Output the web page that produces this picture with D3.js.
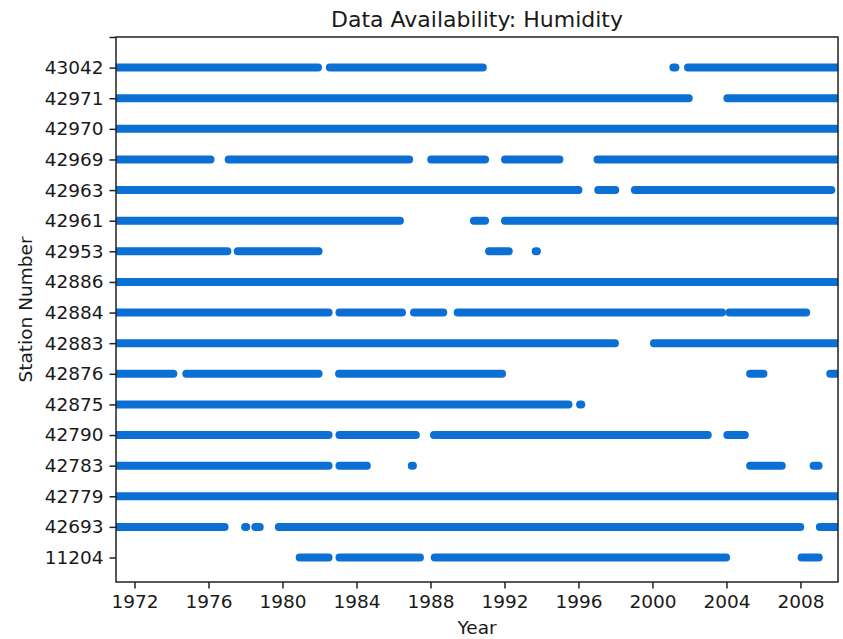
<!DOCTYPE html>
<html>
<head>
<meta charset="utf-8">
<script src="https://cdn.jsdelivr.net/npm/d3@7"></script>
<style>
  body { margin: 0; background: #fff; }
  svg { display: block; }
  text { font-family: "DejaVu Sans", sans-serif; fill: #1a1a1a; }
</style>
</head>
<body>
<svg id="chart" width="843" height="639"></svg>
<script>
// Stations, bottom to top
const stations = ["11204","42693","42779","42783","42790","42875","42876","42883",
                  "42884","42886","42953","42961","42963","42969","42970","42971","43042"];

// Periods with data [startYear, endYear], one list per station (same order)
const availability = [
  [[1980.93,1982.49],[1983.08,1987.43],[1988.23,2003.98],[2008.06,2008.99]],                 // 11204
  [[1971,1976.87],[1977.98,1978.04],[1978.53,1978.77],[1979.80,2007.99],[2009.05,2010]],     // 42693
  [[1971,2010]],                                                                             // 42779
  [[1971,1982.49],[1983.08,1984.56],[1986.99,1987.05],[2005.28,2006.99],[2008.71,2008.98]],  // 42783
  [[1971,1982.49],[1983.08,1987.21],[1988.19,2002.99],[2004.05,2004.99]],                    // 42790
  [[1971,1995.46],[1996.09,1996.15]],                                                        // 42875
  [[1971,1974.10],[1974.80,1981.95],[1983.06,1991.87],[2005.28,2006.0],[2009.61,2010]],      // 42876
  [[1971,1997.97],[2000.08,2010]],                                                           // 42883
  [[1971,1982.49],[1983.08,1986.46],[1987.11,1988.69],[1989.47,2003.76],[2004.16,2008.31]],  // 42884
  [[1971,2010]],                                                                             // 42886
  [[1971,1977.02],[1977.58,1981.95],[1991.17,1992.23],[1993.69,1993.75]],                    // 42953
  [[1971,1986.35],[1990.35,1990.95],[1992.03,2010]],                                         // 42961
  [[1971,1996.0],[1997.07,1997.99],[1999.05,2009.67]],                                       // 42963
  [[1971,1976.11],[1977.09,1986.85],[1988.04,1990.95],[1992.03,1994.97],[1997.03,2010]],     // 42969
  [[1971,2010]],                                                                             // 42970
  [[1971,2001.96],[2004.05,2010]],                                                           // 42971
  [[1971,1981.92],[1982.56,1990.83],[2001.13,2001.24],[2001.92,2010]]                        // 43042
];

const xTicks = [1972,1976,1980,1984,1988,1992,1996,2000,2004,2008];
const xDomain = [1971, 2010.03];

const W = 843, H = 639;
const plot = { left: 116, right: 838, top: 37, bottom: 582 };
const color = "#0b6fd4";

const svg = d3.select("#chart");

const x = d3.scaleLinear().domain(xDomain).range([plot.left, plot.right]);
const y = d3.scaleLinear().domain([-0.8, 17]).range([plot.bottom, plot.top]);

svg.append("defs").append("clipPath").attr("id", "clip")
  .append("rect")
  .attr("x", plot.left).attr("y", plot.top)
  .attr("width", plot.right - plot.left).attr("height", plot.bottom - plot.top);

// Data segments
const segs = [];
availability.forEach((list, i) => list.forEach(s => segs.push({ i, s })));

svg.append("g").attr("clip-path", "url(#clip)")
  .selectAll("line").data(segs).join("line")
  .attr("x1", d => x(d.s[0]))
  .attr("x2", d => x(d.s[1]))
  .attr("y1", d => y(d.i))
  .attr("y2", d => y(d.i))
  .attr("stroke", color)
  .attr("stroke-width", 8)
  .attr("stroke-linecap", "round");

// Axes
const tickColor = "#222";
const xAxis = d3.axisBottom(x).tickValues(xTicks).tickFormat(d3.format("d"))
  .tickSize(6.5).tickPadding(6).tickSizeOuter(0);
const gx = svg.append("g").attr("transform", `translate(0,${plot.bottom})`).call(xAxis);
gx.select(".domain").remove();
gx.selectAll(".tick line").attr("stroke", tickColor).attr("stroke-width", 1.5);
gx.selectAll("text").style("font-size", "18.5px").attr("fill", "#1a1a1a");

const yTickVals = d3.range(stations.length + 1);
const yAxis = d3.axisLeft(y).tickValues(yTickVals)
  .tickFormat(d => stations[d] !== undefined ? stations[d] : "")
  .tickSize(6.5).tickPadding(6).tickSizeOuter(0);
const gy = svg.append("g").attr("transform", `translate(${plot.left},0)`).call(yAxis);
gy.select(".domain").remove();
gy.selectAll(".tick line").attr("stroke", tickColor).attr("stroke-width", 1.5);
gy.selectAll("text").style("font-size", "18.5px").attr("fill", "#1a1a1a");

// Spines
svg.append("rect")
  .attr("x", plot.left).attr("y", plot.top)
  .attr("width", plot.right - plot.left).attr("height", plot.bottom - plot.top)
  .attr("fill", "none").attr("stroke", tickColor).attr("stroke-width", 1.5);

// Labels
svg.append("text").attr("x", (plot.left + plot.right) / 2).attr("y", 27)
  .attr("text-anchor", "middle").style("font-size", "22px")
  .text("Data Availability: Humidity");

svg.append("text").attr("x", (plot.left + plot.right) / 2).attr("y", 634)
  .attr("text-anchor", "middle").style("font-size", "18.5px")
  .text("Year");

svg.append("text")
  .attr("transform", `translate(32,${(plot.top + plot.bottom) / 2}) rotate(-90)`)
  .attr("text-anchor", "middle").style("font-size", "18.5px")
  .text("Station Number");
</script>
</body>
</html>
